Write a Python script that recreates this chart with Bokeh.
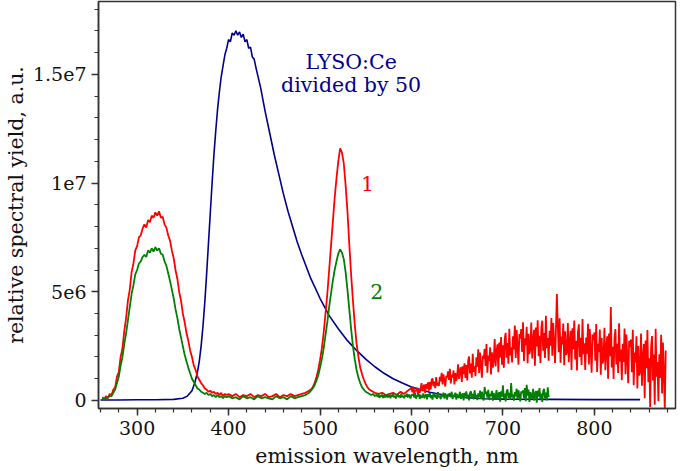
import numpy as np
from bokeh.plotting import figure
from bokeh.models import Range1d, FixedTicker
from bokeh.core.properties import value
from bokeh.embed import file_html
from bokeh.resources import INLINE

# ---------------- data (values in millions of a.u.) ----------------
blue_nm = [260, 280, 300, 320, 340, 350, 355, 360, 363, 366, 368, 370, 372, 374, 376, 378, 380,
           382, 384, 386, 388, 390, 392, 394, 396, 398, 400, 402, 404, 406, 408, 410, 412, 414,
           416, 418, 420, 422, 424, 426, 428, 430, 435, 440, 445, 450, 455, 460, 465, 470, 475,
           480, 490, 500, 510, 520, 530, 540, 550, 560, 570, 580, 590, 600, 620, 640, 660, 680,
           700, 750, 800, 850]
blue_val = [0.02, 0.02, 0.03, 0.03, 0.05, 0.1, 0.2, 0.45, 0.8, 1.3, 1.8, 2.5, 3.4, 4.5, 5.8, 7.2, 8.6,
            10.0, 11.3, 12.4, 13.4, 14.2, 14.9, 15.4, 15.9, 16.2, 16.6, 16.5, 16.9, 16.8, 17.0, 16.8,
            16.95, 16.7, 16.85, 16.5, 16.6, 16.2, 16.25, 15.8, 15.7, 15.3, 14.4, 13.3, 12.3, 11.3,
            10.4, 9.5, 8.7, 8.0, 7.3, 6.7, 5.6, 4.7, 3.9, 3.3, 2.75, 2.3, 1.9, 1.55, 1.25, 1.0, 0.8,
            0.62, 0.38, 0.22, 0.13, 0.08, 0.06, 0.05, 0.04, 0.04]

red_nm = (list(range(262, 400, 2)) + list(range(400, 490, 4)) + list(range(490, 562, 2))
          + list(range(564, 600, 4)) + list(range(600, 879)))
red_val = [
    0.15, 0.05, 0.2, 0.1, 0.3, 0.25, 0.5, 0.6, 1.1, 1.3,
    2.0, 2.4, 3.2, 3.8, 4.6, 5.1, 5.9, 6.3, 6.9, 7.1,
    7.5, 7.6, 7.9, 8.1, 7.95, 8.3, 8.2, 8.5, 8.4, 8.65,
    8.5, 8.7, 8.4, 8.45, 8.1, 7.95, 7.6, 7.35, 6.9, 6.55,
    6.0, 5.6, 5.0, 4.6, 4.0, 3.6, 3.1, 2.75, 2.3, 2.0,
    1.6, 1.4, 1.1, 0.95, 0.8, 0.7, 0.55, 0.5, 0.4, 0.45,
    0.35, 0.4, 0.3, 0.35, 0.25, 0.35, 0.2, 0.3, 0.25,
    # 400-488
    0.3, 0.2, 0.3, 0.15, 0.25, 0.2, 0.3, 0.15, 0.25, 0.2, 0.3, 0.15,
    0.2, 0.3, 0.15, 0.25, 0.2, 0.3, 0.2, 0.25, 0.3, 0.35, 0.45,
    # 490-560
    0.5, 0.6, 0.8, 1.05, 1.4, 1.85, 2.4, 3.1, 4.0, 4.9,
    6.0, 7.1, 8.2, 9.3, 10.2, 11.0, 11.6, 11.4, 10.9, 9.9,
    8.7, 7.2, 5.8, 4.6, 3.5, 2.6, 2.0, 1.5, 1.2, 0.95,
    0.75, 0.6, 0.5, 0.45, 0.4, 0.35,
    # 564-596
    0.3, 0.35, 0.25, 0.3, 0.35, 0.25, 0.4, 0.3, 0.45,
    # 600-878, 1 nm
    0.57, 0.37, 0.63, 0.29, 0.49, 0.43, 0.59, 0.27, 0.53, 0.35,
    0.53, 0.80, 0.43, 0.63, 0.73, 0.35, 0.75, 0.55, 0.83, 0.45,
    0.84, 0.51, 0.93, 1.02, 0.66, 0.87, 0.57, 1.08, 0.69, 0.81,
    0.67, 1.09, 0.88, 1.27, 0.74, 1.20, 0.92, 0.64, 1.13, 1.06,
    1.34, 0.94, 1.46, 0.78, 1.18, 1.06, 1.38, 0.74, 1.26, 0.90,
    1.17, 1.66, 0.99, 1.35, 1.53, 0.85, 1.57, 1.21, 1.71, 1.03,
    1.63, 0.92, 1.83, 2.02, 1.24, 1.70, 1.05, 2.15, 1.31, 1.57,
    1.12, 1.99, 1.56, 2.35, 1.27, 2.20, 1.63, 1.05, 2.06, 1.92,
    2.37, 1.59, 2.60, 1.28, 2.06, 1.82, 2.45, 1.20, 2.21, 1.51,
    1.90, 2.83, 1.56, 2.24, 2.58, 1.30, 2.66, 1.98, 2.92, 1.64,
    2.54, 1.50, 2.83, 3.11, 1.97, 2.64, 1.69, 3.30, 2.07, 2.45,
    1.75, 2.95, 2.35, 3.45, 1.95, 3.25, 2.45, 1.65, 3.05, 2.85,
    3.28, 2.23, 3.60, 1.81, 2.86, 2.55, 3.39, 1.71, 3.07, 2.13,
    2.37, 3.58, 1.93, 2.81, 3.25, 1.60, 3.36, 2.48, 3.69, 2.04,
    2.98, 1.72, 3.33, 3.67, 2.29, 3.10, 1.95, 3.90, 2.41, 2.87,
    1.83, 3.21, 2.52, 3.79, 2.06, 3.56, 2.64, 1.72, 3.33, 4.90,
    3.42, 2.22, 3.78, 1.74, 2.94, 2.58, 3.54, 1.62, 3.18, 2.10,
    2.24, 3.56, 1.76, 2.72, 3.20, 1.40, 3.32, 2.36, 3.68, 1.88,
    2.75, 1.38, 3.13, 3.50, 2.00, 2.88, 1.63, 3.75, 2.13, 2.63,
    1.40, 2.90, 2.15, 3.53, 1.65, 3.28, 2.28, 1.28, 3.03, 2.78,
    3.13, 1.83, 3.52, 1.31, 2.61, 2.22, 3.26, 1.18, 2.87, 1.70,
    1.91, 3.34, 1.39, 2.43, 2.95, 1.00, 3.08, 2.04, 4.30, 1.52,
    2.47, 0.99, 2.88, 3.28, 1.66, 2.61, 1.26, 3.55, 1.80, 2.34,
    0.93, 2.61, 1.77, 3.31, 1.21, 3.03, 1.91, 0.79, 2.75, 2.47,
    2.80, 1.30, 3.25, 0.70, 2.20, 1.75, 2.95, 0.55, 2.50, 1.15,
    1.32, 3.08, 0.68, 1.96, 2.60, 0.10, 2.76, 1.48, 3.24, 0.84,
    1.94, -0.30, 2.45, 2.96, 0.92, 2.11, -0.20, 3.30, 1.09, 1.77,
    -0.04, 2.12, 1.04, 3.02, 0.32, 2.66, 1.22, -0.40, 2.30,
]

green_nm = (list(range(262, 400, 2)) + list(range(400, 490, 4)) + list(range(490, 562, 2))
            + list(range(562, 751)))
green_val = [
    0.05, 0.1, 0.05, 0.15, 0.2, 0.2, 0.35, 0.5, 0.8, 1.1,
    1.6, 2.0, 2.6, 3.1, 3.7, 4.3, 4.9, 5.3, 5.8, 6.0,
    6.3, 6.4, 6.6, 6.7, 6.6, 6.9, 6.8, 7.0, 6.85, 7.05,
    6.9, 7.0, 6.75, 6.7, 6.4, 6.2, 5.85, 5.5, 5.1, 4.7,
    4.2, 3.8, 3.3, 2.9, 2.5, 2.1, 1.8, 1.5, 1.25, 1.0,
    0.85, 0.7, 0.55, 0.5, 0.4, 0.35, 0.3, 0.35, 0.25, 0.3,
    0.2, 0.25, 0.15, 0.25, 0.15, 0.2, 0.1, 0.2, 0.15,
    # 400-488
    0.2, 0.1, 0.15, 0.05, 0.2, 0.1, 0.15, 0.05, 0.2, 0.1, 0.15, 0.1,
    0.05, 0.2, 0.1, 0.15, 0.05, 0.2, 0.1, 0.15, 0.2, 0.25, 0.35,
    # 490-560
    0.45, 0.55, 0.7, 0.9, 1.15, 1.5, 1.9, 2.4, 3.0, 3.6,
    4.3, 4.9, 5.5, 6.0, 6.4, 6.75, 6.95, 6.8, 6.5, 5.9,
    5.1, 4.2, 3.3, 2.5, 1.9, 1.4, 1.05, 0.8, 0.6, 0.5,
    0.4, 0.35, 0.3, 0.25, 0.3, 0.2,
    # 562-750, 1 nm
    0.26, 0.16, 0.29, 0.12, 0.22, 0.19, 0.27, 0.11, 0.24, 0.15,
    0.17, 0.28, 0.13, 0.21, 0.25, 0.10, 0.26, 0.18, 0.29, 0.14,
    0.22, 0.09, 0.26, 0.30, 0.15, 0.24, 0.12, 0.32, 0.16, 0.21,
    0.10, 0.25, 0.18, 0.31, 0.13, 0.28, 0.19, 0.09, 0.26, 0.24,
    0.29, 0.14, 0.34, 0.08, 0.23, 0.19, 0.31, 0.07, 0.26, 0.13,
    0.16, 0.32, 0.10, 0.22, 0.28, 0.05, 0.29, 0.17, 0.34, 0.11,
    0.24, 0.04, 0.29, 0.34, 0.13, 0.25, 0.07, 0.38, 0.15, 0.22,
    0.06, 0.27, 0.16, 0.36, 0.09, 0.33, 0.18, 0.04, 0.29, 0.25,
    0.34, 0.14, 0.40, 0.06, 0.26, 0.20, 0.36, 0.04, 0.30, 0.12,
    0.15, 0.40, 0.07, 0.24, 0.33, 0.00, 0.35, 0.18, 0.42, 0.09,
    0.27, 0.00, 0.35, 0.42, 0.12, 0.30, 0.05, 0.47, 0.15, 0.25,
    0.02, 0.32, 0.17, 0.45, 0.07, 0.40, 0.20, 0.00, 0.62, 0.30,
    0.41, 0.13, 0.49, 0.02, 0.30, 0.21, 0.44, -0.01, 0.35, 0.10,
    0.15, 0.48, 0.03, 0.27, 0.39, -0.06, 0.42, 0.18, 0.70, 0.06,
    0.31, -0.04, 0.41, 0.51, 0.12, 0.35, 0.03, 0.80, 0.15, 0.28,
    -0.01, 0.38, 0.19, 0.54, 0.06, 0.47, 0.22, -0.04, 0.41, 0.35,
    0.46, 0.11, 0.57, -0.03, 0.72, 0.22, 0.50, -0.07, 0.39, 0.08,
    0.15, 0.53, 0.00, 0.29, 0.43, -0.10, 0.46, 0.18, 0.57, 0.04,
    0.32, -0.07, 0.43, 0.53, 0.11, 0.36, 0.00, 0.60, 0.15,
]

x_major = [300, 400, 500, 600, 700, 800]
y_major = [0, 5000000, 10000000, 15000000]
y_labels = ["0", "5e6", "1e7", "1.5e7"]

SCALE = 1e6
FONT = "DejaVu Serif"
FS_TICK = "19px"
FS = "20.5px"

p = figure(width=677, height=470, output_backend="svg", toolbar_location=None,
           x_range=Range1d(257.8, 888.7), y_range=Range1d(-0.37e6, 18.35e6),
           min_border_left=92, min_border_right=2, min_border_top=1, min_border_bottom=62,
           background_fill_color="white", border_fill_color="white")

p.line(blue_nm, np.array(blue_val) * SCALE, line_color="#00008b", line_width=1.6)
p.line(red_nm, np.array(red_val) * SCALE, line_color="#ff0000", line_width=1.8)
p.line(green_nm, np.array(green_val) * SCALE, line_color="#008000", line_width=1.8)

p.text(x=[534, 534], y=[15.55e6, 14.5e6], text=["LYSO:Ce", "divided by 50"],
       text_font=value(FONT), text_font_size=FS, text_color="#00008b",
       text_align="center", text_baseline="middle")
p.text(x=[552], y=[10.0e6], text=["1"], text_font=value(FONT), text_font_size=FS,
       text_color="#ff0000", text_align="center", text_baseline="middle")
p.text(x=[562], y=[5.0e6], text=["2"], text_font=value(FONT), text_font_size=FS,
       text_color="#008000", text_align="center", text_baseline="middle")

p.xgrid.visible = False
p.ygrid.visible = False
p.outline_line_color = "#333333"
p.outline_line_width = 1.5
p.outline_line_alpha = 1.0

p.xaxis.ticker = FixedTicker(ticks=x_major, minor_ticks=list(range(260, 881, 20)))
p.yaxis.ticker = FixedTicker(ticks=y_major, minor_ticks=[i * 1000000 for i in range(0, 19)])
p.yaxis.major_label_overrides = dict(zip(y_major, y_labels))
p.xaxis.axis_label = "emission wavelength, nm"
p.yaxis.axis_label = "relative spectral yield, a.u."

for ax in (p.xaxis[0], p.yaxis[0]):
    ax.axis_line_color = "#333333"
    ax.axis_line_width = 1.5
    ax.major_tick_line_color = "#333333"
    ax.major_tick_line_width = 1.5
    ax.minor_tick_line_color = "#333333"
    ax.minor_tick_line_width = 1.2
    ax.major_tick_in = 0
    ax.major_tick_out = 7
    ax.minor_tick_in = 0
    ax.minor_tick_out = 4
    ax.major_label_text_font = FONT
    ax.major_label_text_font_size = FS_TICK
    ax.major_label_text_color = "#111111"
    ax.axis_label_text_font = FONT
    ax.axis_label_text_font_size = FS
    ax.axis_label_text_font_style = "normal"
    ax.axis_label_text_color = "#111111"
    ax.major_label_standoff = 5
    ax.axis_label_standoff = 2

p.xaxis[0].axis_label_standoff = 6

open("out.html", "w").write(file_html(p, INLINE))
